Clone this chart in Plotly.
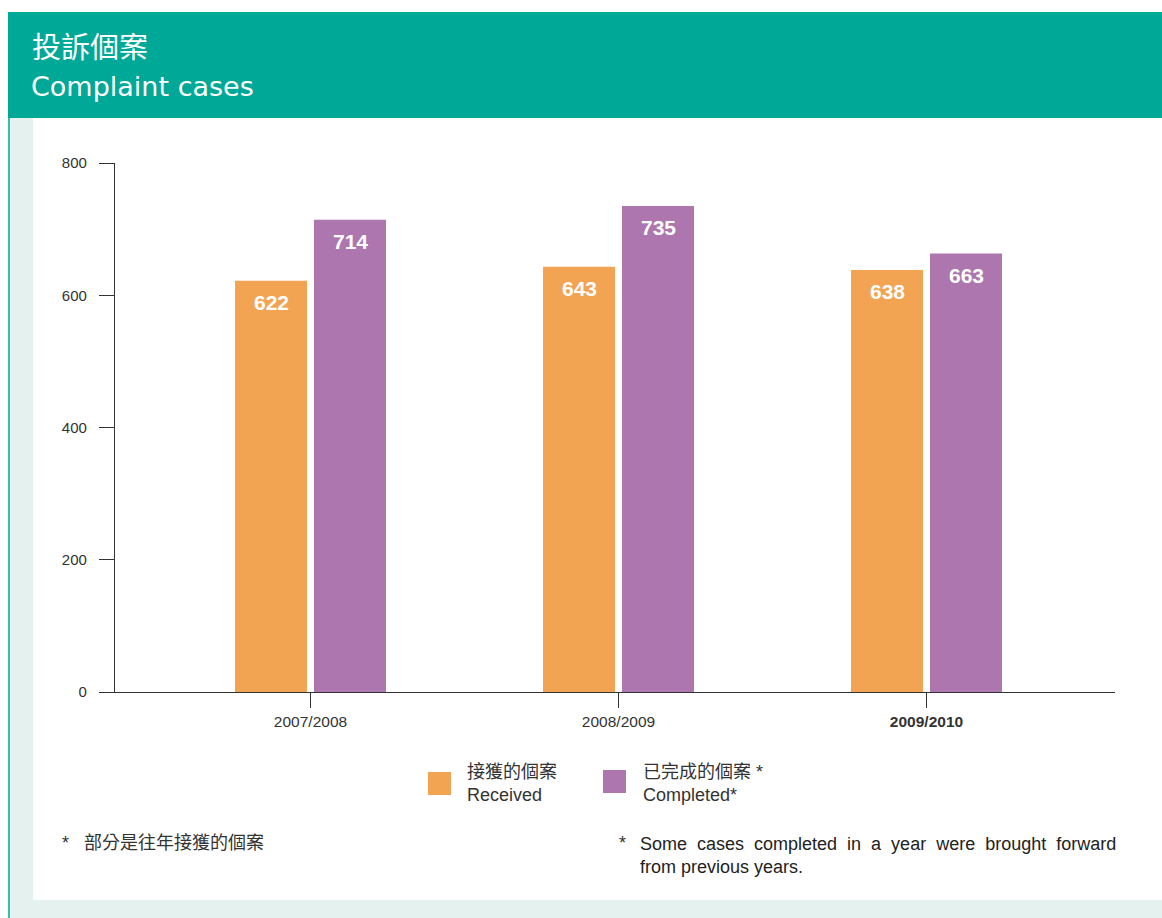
import plotly.graph_objects as go

# ---- data ----
years = ["2007/2008", "2008/2009", "2009/2010"]
year_labels = ["2007/2008", "2008/2009", "<b>2009/2010</b>"]
received = [622, 643, 638]
completed = [714, 735, 663]
series_names = ["接獲的個案<br>Received", "已完成的個案 *<br>Completed*"]
y_ticks = [0, 200, 400, 600, 800]

ORANGE = "#F3A453"
PURPLE = "#AD76AE"
TEAL = "#00A897"
MINT = "#E4F1EE"
FONT = "Liberation Sans, Noto Sans CJK TC, sans-serif"

W, H = 1162, 918
L, R, T, B = 115, 1115, 163, 692  # plot area in pixels


def px(x):
    return (x - L) / (R - L)


def py(y):
    return (B - y) / (B - T)


fig = go.Figure()
fig.add_trace(go.Bar(x=years, y=received, name=series_names[0], marker_color=ORANGE,
                     marker_line_width=0, showlegend=False))
fig.add_trace(go.Bar(x=years, y=completed, name=series_names[1], marker_color=PURPLE,
                     marker_line_width=0, showlegend=False))

shapes = [
    dict(type="rect", xref="paper", yref="paper", x0=px(8), x1=px(1162), y0=py(118), y1=py(12),
         fillcolor=TEAL, line_width=0, layer="below"),
    dict(type="rect", xref="paper", yref="paper", x0=px(8), x1=px(33), y0=py(918), y1=py(118),
         fillcolor=MINT, line_width=0, layer="below"),
    dict(type="rect", xref="paper", yref="paper", x0=px(8), x1=px(1162), y0=py(918), y1=py(900),
         fillcolor=MINT, line_width=0, layer="below"),
    dict(type="rect", xref="paper", yref="paper", x0=px(8), x1=px(10), y0=py(918), y1=py(118),
         fillcolor="#3BBBAA", line_width=0, layer="below"),
    dict(type="rect", xref="paper", yref="paper", x0=px(428), x1=px(451), y0=py(795), y1=py(772),
         fillcolor=ORANGE, line_width=0),
    dict(type="rect", xref="paper", yref="paper", x0=px(603), x1=px(626), y0=py(793), y1=py(770),
         fillcolor=PURPLE, line_width=0),
]

annotations = []
annotations.append(dict(xref="paper", yref="paper", x=px(30), y=py(45), text="投訴個案",
                        showarrow=False, xanchor="left", yanchor="middle",
                        font=dict(family="Noto Sans CJK TC", size=29, color="white")))
annotations.append(dict(xref="paper", yref="paper", x=px(29), y=py(87), text="Complaint cases",
                        showarrow=False, xanchor="left", yanchor="middle",
                        font=dict(family="DejaVu Sans, Open Sans", size=27, color="white")))

off = 79 / 2 / 308
for i, (r, c) in enumerate(zip(received, completed)):
    for dx, v in ((-off, r), (off, c)):
        annotations.append(dict(xref="x", yref="y", x=i + dx, y=v, text=f"<b>{v}</b>",
                                showarrow=False, yanchor="middle", yshift=-21.5,
                                font=dict(family=FONT, size=21, color="white")))

annotations.append(dict(xref="paper", yref="paper", x=px(465), y=py(783), text=series_names[0],
                        showarrow=False, xanchor="left", yanchor="middle", align="left",
                        font=dict(family=FONT, size=18, color="#333333")))
annotations.append(dict(xref="paper", yref="paper", x=px(641), y=py(783), text=series_names[1],
                        showarrow=False, xanchor="left", yanchor="middle", align="left",
                        font=dict(family=FONT, size=18, color="#333333")))

annotations.append(dict(xref="paper", yref="paper", x=px(60), y=py(843), text="*&nbsp;&nbsp;&nbsp;部分是往年接獲的個案",
                        showarrow=False, xanchor="left", yanchor="middle",
                        font=dict(family=FONT, size=18, color="#333333")))
annotations.append(dict(xref="paper", yref="paper", x=px(617), y=py(843), text="*",
                        showarrow=False, xanchor="left", yanchor="middle",
                        font=dict(family=FONT, size=18, color="#333333")))
line1 = "Some cases completed in a year were brought forward".replace(" ", " &nbsp;")
annotations.append(dict(xref="paper", yref="paper", x=px(638), y=py(855),
                        text=line1 + "<br>from previous years.",
                        showarrow=False, xanchor="left", yanchor="middle", align="left",
                        font=dict(family=FONT, size=18, color="#222222")))

fig.update_layout(
    width=W, height=H,
    margin=dict(l=L, r=W - R, t=T, b=H - B, pad=0),
    paper_bgcolor="white", plot_bgcolor="white",
    barmode="group", bargap=1 - 158 / 308, bargroupgap=7 / 79,
    font=dict(family=FONT, size=15, color="#333333"),
    shapes=shapes, annotations=annotations,
    xaxis=dict(type="category", range=[(L - 310.5) / 308, (R - 310.5) / 308],
               tickvals=years, ticktext=year_labels,
               showline=True, linecolor="#333333", linewidth=1.3,
               ticks="outside", ticklen=15, tickcolor="#333333", tickwidth=1.3,
               showgrid=False, zeroline=False, tickfont=dict(size=15.5, color="#333333")),
    yaxis=dict(range=[0, 800], tickvals=y_ticks, showline=True, linecolor="#333333", linewidth=1.3,
               ticks="outside", ticklen=15, tickcolor="#333333", tickwidth=1.3,
               ticklabelstandoff=9,
               showgrid=False, zeroline=False, tickfont=dict(size=15, color="#333333")),
)

fig.write_html("out.html", config={"displayModeBar": False},
               post_script="document.body.style.margin='0';")
